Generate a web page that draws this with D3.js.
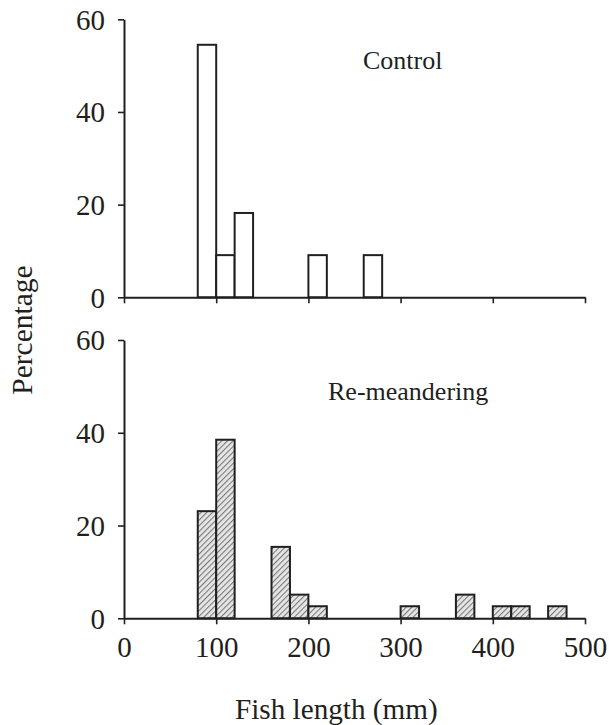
<!DOCTYPE html>
<html>
<head>
<meta charset="utf-8">
<script src="https://cdn.jsdelivr.net/npm/d3@7"></script>
<style>
  body { margin: 0; background: #fff; }
</style>
</head>
<body>
<div class="chart"></div>
<script>
// bins are 20 mm wide, value = lower edge of bin
var binWidth = 20;
var controlBins = [80, 100, 120, 200, 260];
var controlPct = [54.5, 9.1, 18.2, 9.1, 9.1];
var remeanderBins = [80, 100, 160, 180, 200, 300, 360, 400, 420, 460];
var remeanderPct = [23.1, 38.5, 15.4, 5.1, 2.6, 2.6, 5.1, 2.6, 2.6, 2.6];
var xTicks = [0, 100, 200, 300, 400, 500];
var yTicks = [0, 20, 40, 60];

var width = 609, height = 725,
    ink = "#231f20",
    serif = "'Liberation Serif', 'Times New Roman', Times, serif";

var svg = d3.select("div.chart").append("svg")
    .attr("width", width)
    .attr("height", height)
    .attr("font-family", serif);

var defs = svg.append("defs");
var pat = defs.append("pattern")
    .attr("id", "hatch")
    .attr("patternUnits", "userSpaceOnUse")
    .attr("width", 4)
    .attr("height", 4)
    .attr("patternTransform", "rotate(45)");
pat.append("rect")
    .attr("width", 4).attr("height", 4)
    .attr("fill", "#e6e6e6");
pat.append("line")
    .attr("x1", 0).attr("y1", 0)
    .attr("x2", 0).attr("y2", 4)
    .attr("stroke", "#7a7a7a")
    .attr("stroke-width", 2.2);

var x = d3.scaleLinear()
    .domain([0, 500])
    .range([124, 585]);

function panel(bins, pct, top, bottom, fill, showLabels) {
  var y = d3.scaleLinear()
      .domain([0, 60])
      .range([bottom, top]);

  var data = bins.map(function(b, i) { return {start: b, pct: pct[i]}; });

  var g = svg.append("g");

  g.selectAll("rect.bar")
      .data(data)
    .enter().append("rect")
      .attr("class", "bar")
      .attr("x", function(d) { return x(d.start); })
      .attr("y", function(d) { return y(d.pct); })
      .attr("width", function(d) { return x(d.start + binWidth) - x(d.start); })
      .attr("height", function(d) { return y(0) - y(d.pct); })
      .attr("fill", fill)
      .attr("stroke", ink)
      .attr("stroke-width", 2);

  var xAxis = g.append("g")
      .attr("transform", "translate(0," + y(0) + ")")
      .call(d3.axisBottom(x).tickValues(xTicks).tickSize(6).tickSizeOuter(0).tickPadding(8)
        .tickFormat(showLabels ? d3.format("d") : function() { return ""; }));

  var yAxis = g.append("g")
      .attr("transform", "translate(" + x(0) + ",0)")
      .call(d3.axisLeft(y).tickValues(yTicks).tickSize(6).tickSizeOuter(0).tickPadding(13));

  [xAxis, yAxis].forEach(function(a) {
    a.attr("font-family", serif).attr("font-size", 29);
    a.select(".domain").attr("stroke", ink).attr("stroke-width", 2);
    a.selectAll(".tick line").attr("stroke", ink).attr("stroke-width", 1.6);
    a.selectAll(".tick text")
      .style("font-family", serif)
      .style("font-size", "29px")
      .attr("fill", ink);
  });
  xAxis.selectAll(".tick text").attr("dy", "0.85em");
  yAxis.selectAll(".tick text").attr("dy", "0.34em");

  return y;
}

panel(controlBins, controlPct, 19.3, 297.3, "#fff", false);
panel(remeanderBins, remeanderPct, 340, 618.3, "url(#hatch)", true);

function label(t, size) {
  return svg.append("text")
      .style("font-family", serif)
      .style("font-size", size + "px")
      .attr("fill", ink)
      .text(t);
}

label("Control", 26).attr("x", 363).attr("y", 69);
label("Re-meandering", 26).attr("x", 328).attr("y", 400);
label("Percentage", 29.5)
    .attr("transform", "translate(32,330) rotate(-90)")
    .attr("text-anchor", "middle");
label("Fish length (mm)", 29.2).attr("x", 235).attr("y", 719);
</script>
</body>
</html>
